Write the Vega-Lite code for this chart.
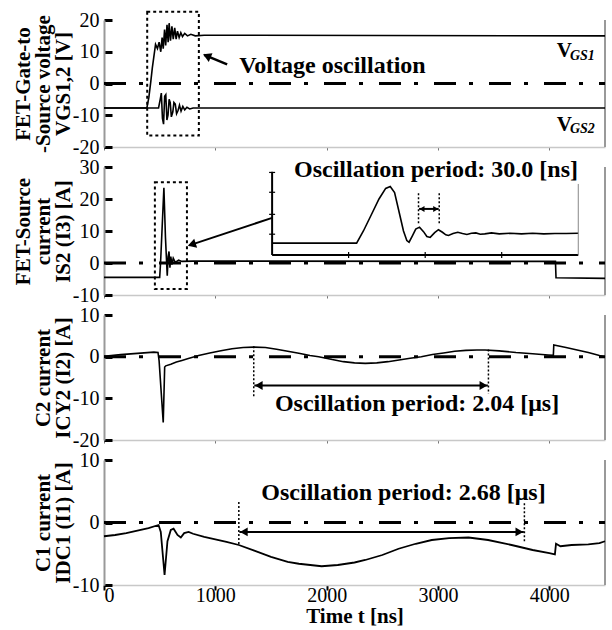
{
  "$schema": "https://vega.github.io/schema/vega-lite/v6.json",
  "padding": {"left": 12, "top": 10, "right": 0, "bottom": 0},
  "background": "white",
  "spacing": 20,
  "bounds": "flush",
  "config": {
    "font": "Liberation Serif",
    "view": {"stroke": null},
    "axis": {
      "labelFont": "Liberation Serif", "labelFontSize": 20, "labelColor": "black", "labelOverlap": false,
      "titleFont": "Liberation Serif", "titleFontSize": 21, "titleFontWeight": "bold", "titleColor": "black",
      "titleLineHeight": 20, "grid": false, "domainColor": "#999", "domainWidth": 2,
      "tickColor": "black", "tickWidth": 3
    },
    "axisY": {"titleFontWeight": "bold", "titlePadding": -1, "tickSize": -8, "labelPadding": 13, "labelExpr": "'' + datum.value", "labelFlush": false, "labelOverlap": false}
  },
  "datasets": {
    "wave": [
      {"p":1,"s":"g1","t":0,"v":-7.7},{"p":1,"s":"g1","t":385,"v":-7.7},{"p":1,"s":"g1","t":403,"v":-4.4},{"p":1,"s":"g1","t":420,"v":0.5},{"p":1,"s":"g1","t":434,"v":4.9},{"p":1,"s":"g1","t":450,"v":9},{"p":1,"s":"g1","t":463,"v":12.3},{"p":1,"s":"g1","t":480,"v":11},{"p":1,"s":"g1","t":495,"v":13},{"p":1,"s":"g1","t":510,"v":10},{"p":1,"s":"g1","t":522,"v":14.5},{"p":1,"s":"g1","t":532,"v":11},{"p":1,"s":"g1","t":544,"v":17},{"p":1,"s":"g1","t":554,"v":12},{"p":1,"s":"g1","t":566,"v":18.5},{"p":1,"s":"g1","t":576,"v":13},{"p":1,"s":"g1","t":585,"v":19},{"p":1,"s":"g1","t":597,"v":13.5},{"p":1,"s":"g1","t":610,"v":18},{"p":1,"s":"g1","t":622,"v":14},{"p":1,"s":"g1","t":635,"v":17.5},{"p":1,"s":"g1","t":648,"v":14},{"p":1,"s":"g1","t":660,"v":16.5},{"p":1,"s":"g1","t":675,"v":14.5},{"p":1,"s":"g1","t":690,"v":16},{"p":1,"s":"g1","t":705,"v":14.8},{"p":1,"s":"g1","t":725,"v":15.8},{"p":1,"s":"g1","t":750,"v":15},{"p":1,"s":"g1","t":780,"v":15.5},{"p":1,"s":"g1","t":820,"v":15},{"p":1,"s":"g1","t":900,"v":15.2},{"p":1,"s":"g1","t":4500,"v":15},
      {"p":1,"s":"g2","t":0,"v":-7.7},{"p":1,"s":"g2","t":490,"v":-7.7},{"p":1,"s":"g2","t":505,"v":-5},{"p":1,"s":"g2","t":515,"v":-3},{"p":1,"s":"g2","t":525,"v":-11},{"p":1,"s":"g2","t":535,"v":-12.8},{"p":1,"s":"g2","t":545,"v":-4},{"p":1,"s":"g2","t":555,"v":-3.5},{"p":1,"s":"g2","t":565,"v":-11.5},{"p":1,"s":"g2","t":575,"v":-10},{"p":1,"s":"g2","t":585,"v":-5},{"p":1,"s":"g2","t":595,"v":-6},{"p":1,"s":"g2","t":605,"v":-10.5},{"p":1,"s":"g2","t":618,"v":-9},{"p":1,"s":"g2","t":628,"v":-6},{"p":1,"s":"g2","t":640,"v":-6.5},{"p":1,"s":"g2","t":652,"v":-9.5},{"p":1,"s":"g2","t":665,"v":-8.5},{"p":1,"s":"g2","t":678,"v":-6.8},{"p":1,"s":"g2","t":692,"v":-8.7},{"p":1,"s":"g2","t":708,"v":-7.2},{"p":1,"s":"g2","t":725,"v":-8.3},{"p":1,"s":"g2","t":745,"v":-7.5},{"p":1,"s":"g2","t":770,"v":-8},{"p":1,"s":"g2","t":800,"v":-7.7},{"p":1,"s":"g2","t":4500,"v":-7.7},
      {"p":2,"s":"is","t":0,"v":-4.5},{"p":2,"s":"is","t":500,"v":-4.5},{"p":2,"s":"is","t":508,"v":0},{"p":2,"s":"is","t":538,"v":23.5},{"p":2,"s":"is","t":552,"v":8},{"p":2,"s":"is","t":568,"v":-4},{"p":2,"s":"is","t":576,"v":2},{"p":2,"s":"is","t":584,"v":3.6},{"p":2,"s":"is","t":592,"v":-1.5},{"p":2,"s":"is","t":600,"v":2},{"p":2,"s":"is","t":610,"v":-0.5},{"p":2,"s":"is","t":622,"v":1.5},{"p":2,"s":"is","t":640,"v":0.2},{"p":2,"s":"is","t":670,"v":0.9},{"p":2,"s":"is","t":700,"v":0.5},{"p":2,"s":"is","t":800,"v":0.6},{"p":2,"s":"is","t":4055,"v":0.5},{"p":2,"s":"is","t":4060,"v":-4.6},{"p":2,"s":"is","t":4500,"v":-4.8},
      {"p":2,"s":"inset","t":1510,"v":6.2},{"p":2,"s":"inset","t":2269,"v":6.2},{"p":2,"s":"inset","t":2330,"v":10},{"p":2,"s":"inset","t":2400,"v":15},{"p":2,"s":"inset","t":2470,"v":20},{"p":2,"s":"inset","t":2530,"v":23.3},{"p":2,"s":"inset","t":2571,"v":23.9},{"p":2,"s":"inset","t":2610,"v":22},{"p":2,"s":"inset","t":2650,"v":16},{"p":2,"s":"inset","t":2690,"v":10},{"p":2,"s":"inset","t":2720,"v":7},{"p":2,"s":"inset","t":2740,"v":6.5},{"p":2,"s":"inset","t":2770,"v":8.5},{"p":2,"s":"inset","t":2800,"v":10.6},{"p":2,"s":"inset","t":2834,"v":11.2},{"p":2,"s":"inset","t":2870,"v":9.8},{"p":2,"s":"inset","t":2900,"v":8.3},{"p":2,"s":"inset","t":2930,"v":8.0},{"p":2,"s":"inset","t":2970,"v":9.5},{"p":2,"s":"inset","t":3004,"v":10.4},{"p":2,"s":"inset","t":3040,"v":9.6},{"p":2,"s":"inset","t":3070,"v":8.8},{"p":2,"s":"inset","t":3094,"v":8.6},{"p":2,"s":"inset","t":3135,"v":9.2},{"p":2,"s":"inset","t":3178,"v":9.6},{"p":2,"s":"inset","t":3220,"v":9.2},{"p":2,"s":"inset","t":3260,"v":8.9},{"p":2,"s":"inset","t":3300,"v":9.3},{"p":2,"s":"inset","t":3340,"v":9.4},{"p":2,"s":"inset","t":3380,"v":9.0},{"p":2,"s":"inset","t":3420,"v":9.1},{"p":2,"s":"inset","t":3480,"v":9.4},{"p":2,"s":"inset","t":3550,"v":9.1},{"p":2,"s":"inset","t":3650,"v":9.3},{"p":2,"s":"inset","t":3750,"v":9.1},{"p":2,"s":"inset","t":3850,"v":9.3},{"p":2,"s":"inset","t":3950,"v":9.1},{"p":2,"s":"inset","t":4050,"v":9.2},{"p":2,"s":"inset","t":4150,"v":9.2},{"p":2,"s":"inset","t":4260,"v":9.3},
      {"p":3,"s":"c2","t":0,"v":0.1},{"p":3,"s":"c2","t":150,"v":0.5},{"p":3,"s":"c2","t":300,"v":0.8},{"p":3,"s":"c2","t":448,"v":1.1},{"p":3,"s":"c2","t":485,"v":1.0},{"p":3,"s":"c2","t":495,"v":-1},{"p":3,"s":"c2","t":532,"v":-15.8},{"p":3,"s":"c2","t":545,"v":-2.5},{"p":3,"s":"c2","t":555,"v":-2.2},{"p":3,"s":"c2","t":600,"v":-1.8},{"p":3,"s":"c2","t":650,"v":-1.3},{"p":3,"s":"c2","t":700,"v":-0.9},{"p":3,"s":"c2","t":750,"v":-0.5},{"p":3,"s":"c2","t":850,"v":0.3},{"p":3,"s":"c2","t":950,"v":0.9},{"p":3,"s":"c2","t":1050,"v":1.4},{"p":3,"s":"c2","t":1150,"v":1.9},{"p":3,"s":"c2","t":1250,"v":2.2},{"p":3,"s":"c2","t":1345,"v":2.3},{"p":3,"s":"c2","t":1450,"v":2.2},{"p":3,"s":"c2","t":1550,"v":1.8},{"p":3,"s":"c2","t":1650,"v":1.3},{"p":3,"s":"c2","t":1750,"v":0.8},{"p":3,"s":"c2","t":1850,"v":0.3},{"p":3,"s":"c2","t":1928,"v":0},{"p":3,"s":"c2","t":2050,"v":-0.7},{"p":3,"s":"c2","t":2150,"v":-1.2},{"p":3,"s":"c2","t":2250,"v":-1.5},{"p":3,"s":"c2","t":2347,"v":-1.6},{"p":3,"s":"c2","t":2450,"v":-1.5},{"p":3,"s":"c2","t":2550,"v":-1.2},{"p":3,"s":"c2","t":2650,"v":-0.8},{"p":3,"s":"c2","t":2750,"v":-0.4},{"p":3,"s":"c2","t":2850,"v":0},{"p":3,"s":"c2","t":2950,"v":0.5},{"p":3,"s":"c2","t":3050,"v":0.9},{"p":3,"s":"c2","t":3150,"v":1.3},{"p":3,"s":"c2","t":3250,"v":1.5},{"p":3,"s":"c2","t":3350,"v":1.6},{"p":3,"s":"c2","t":3423,"v":1.6},{"p":3,"s":"c2","t":3550,"v":1.4},{"p":3,"s":"c2","t":3700,"v":1.0},{"p":3,"s":"c2","t":3850,"v":0.7},{"p":3,"s":"c2","t":3990,"v":0.4},{"p":3,"s":"c2","t":4036,"v":0.3},{"p":3,"s":"c2","t":4040,"v":2.8},{"p":3,"s":"c2","t":4150,"v":2.2},{"p":3,"s":"c2","t":4250,"v":1.6},{"p":3,"s":"c2","t":4350,"v":1.0},{"p":3,"s":"c2","t":4450,"v":0.3},{"p":3,"s":"c2","t":4500,"v":0},
      {"p":4,"s":"c1","t":0,"v":-2.2},{"p":4,"s":"c1","t":100,"v":-2.0},{"p":4,"s":"c1","t":200,"v":-1.7},{"p":4,"s":"c1","t":300,"v":-1.3},{"p":4,"s":"c1","t":400,"v":-0.9},{"p":4,"s":"c1","t":490,"v":-0.4},{"p":4,"s":"c1","t":510,"v":-1.5},{"p":4,"s":"c1","t":544,"v":-8.4},{"p":4,"s":"c1","t":570,"v":-3},{"p":4,"s":"c1","t":600,"v":-1.2},{"p":4,"s":"c1","t":625,"v":-1.0},{"p":4,"s":"c1","t":660,"v":-2.0},{"p":4,"s":"c1","t":690,"v":-2.4},{"p":4,"s":"c1","t":720,"v":-1.7},{"p":4,"s":"c1","t":760,"v":-1.5},{"p":4,"s":"c1","t":800,"v":-1.8},{"p":4,"s":"c1","t":900,"v":-2.3},{"p":4,"s":"c1","t":1000,"v":-2.7},{"p":4,"s":"c1","t":1100,"v":-3.1},{"p":4,"s":"c1","t":1211,"v":-3.6},{"p":4,"s":"c1","t":1350,"v":-4.5},{"p":4,"s":"c1","t":1500,"v":-5.5},{"p":4,"s":"c1","t":1650,"v":-6.3},{"p":4,"s":"c1","t":1750,"v":-6.6},{"p":4,"s":"c1","t":1955,"v":-7.0},{"p":4,"s":"c1","t":2100,"v":-6.8},{"p":4,"s":"c1","t":2250,"v":-6.4},{"p":4,"s":"c1","t":2347,"v":-6.0},{"p":4,"s":"c1","t":2500,"v":-5.2},{"p":4,"s":"c1","t":2646,"v":-4.2},{"p":4,"s":"c1","t":2800,"v":-3.4},{"p":4,"s":"c1","t":2944,"v":-2.8},{"p":4,"s":"c1","t":3100,"v":-2.5},{"p":4,"s":"c1","t":3274,"v":-2.4},{"p":4,"s":"c1","t":3450,"v":-2.8},{"p":4,"s":"c1","t":3661,"v":-3.6},{"p":4,"s":"c1","t":3850,"v":-4.4},{"p":4,"s":"c1","t":4000,"v":-4.9},{"p":4,"s":"c1","t":4050,"v":-5.1},{"p":4,"s":"c1","t":4060,"v":-3.4},{"p":4,"s":"c1","t":4100,"v":-3.8},{"p":4,"s":"c1","t":4200,"v":-3.6},{"p":4,"s":"c1","t":4350,"v":-3.5},{"p":4,"s":"c1","t":4450,"v":-3.3},{"p":4,"s":"c1","t":4500,"v":-3.0}
    ],
    "rects": [
      {"p":1,"t":388,"t2":852,"v":-16.4,"v2":22.6},
      {"p":2,"t":457,"t2":745,"v":-8.1,"v2":25.2}
    ],
    "segs": [
      {"p":1,"k":"border","t":4500,"v":-20,"t2":4500,"v2":20},
      {"p":1,"k":"zero","t":0,"v":0,"t2":4500,"v2":0},
      {"p":2,"k":"border","t":4500,"v":-10,"t2":4500,"v2":30},
      {"p":2,"k":"zero","t":0,"v":0,"t2":4500,"v2":0},
      {"p":3,"k":"border","t":4500,"v":-20,"t2":4500,"v2":10},
      {"p":3,"k":"zero","t":0,"v":0,"t2":4500,"v2":0},
      {"p":4,"k":"border","t":4500,"v":-10,"t2":4500,"v2":10},
      {"p":4,"k":"zero","t":0,"v":0,"t2":4500,"v2":0},
      {"p":1,"k":"solid","t":1106,"v":6.0,"t2":900,"v2":9.0},
      {"p":2,"k":"solid","t":1510,"v":14.1,"t2":765,"v2":5.5},
      {"p":2,"k":"solid","t":2830,"v":16.9,"t2":3006,"v2":16.9},
      {"p":2,"k":"dot","t":2825,"v":12.4,"t2":2825,"v2":22.3},
      {"p":2,"k":"dot","t":3011,"v":12.4,"t2":3011,"v2":22.3},
      {"p":2,"k":"frame","t":1510,"v":2.5,"t2":1510,"v2":28.5},
      {"p":2,"k":"frame","t":1510,"v":2.5,"t2":4260,"v2":2.5},
      {"p":2,"k":"thin","t":4260,"v":2.5,"t2":4260,"v2":24.7},
      {"p":3,"k":"dot","t":1345,"v":2.5,"t2":1345,"v2":-9.7},
      {"p":3,"k":"dot","t":3453,"v":1.7,"t2":3453,"v2":-8.9},
      {"p":3,"k":"solid","t":1350,"v":-6.9,"t2":3448,"v2":-6.9},
      {"p":4,"k":"dot","t":1211,"v":3.3,"t2":1211,"v2":-3.6},
      {"p":4,"k":"dot","t":3776,"v":3.1,"t2":3776,"v2":-3.3},
      {"p":4,"k":"solid","t":1216,"v":-1.5,"t2":3771,"v2":-1.5}
    ],
    "heads": [
      {"p":1,"k":"d1","t":935,"v":8.5},
      {"p":2,"k":"d2","t":800,"v":5.9},
      {"p":2,"k":"l","t":2856,"v":16.9},
      {"p":2,"k":"r","t":2980,"v":16.9},
      {"p":3,"k":"L","t":1390,"v":-6.9},
      {"p":3,"k":"R","t":3408,"v":-6.9},
      {"p":4,"k":"L","t":1256,"v":-1.5},
      {"p":4,"k":"R","t":3731,"v":-1.5}
    ],
    "iticks": [
      {"p":2,"k":"h","t":1510,"v":28.3},{"p":2,"k":"h","t":1510,"v":22.1},{"p":2,"k":"h","t":1510,"v":15.2},{"p":2,"k":"h","t":1510,"v":9.0},
      {"p":2,"k":"v","t":2197,"v":2.5},{"p":2,"k":"v","t":2885,"v":2.5},{"p":2,"k":"v","t":3572,"v":2.5}
    ],
    "texts": [
      {"p":1,"k":"ann","t":2052,"v":5.5,"label":"Voltage oscillation"},
      {"p":1,"k":"V","t":4135,"v":10.1,"label":"V"},
      {"p":1,"k":"sub","t":4297,"v":8.6,"label":"GS1"},
      {"p":1,"k":"V","t":4135,"v":-13.2,"label":"V"},
      {"p":1,"k":"sub","t":4297,"v":-14.4,"label":"GS2"},
      {"p":2,"k":"ann","t":2982,"v":29.0,"label":"Oscillation period: 30.0 [ns]"},
      {"p":3,"k":"ann","t":2812,"v":-11.3,"label":"Oscillation period: 2.04 [μs]"},
      {"p":4,"k":"ann","t":2690,"v":4.7,"label":"Oscillation period: 2.68 [μs]"}
    ]
  },
  "vconcat": [
    {
      "width": 501, "height": 127,
      "encoding": {
        "x": {"field": "t", "type": "quantitative", "scale": {"domain": [0, 4500], "nice": false}, "axis": {"values": [0, 1000, 2000, 3000, 4000], "labels": false, "title": null, "tickSize": 3, "tickWidth": 1, "tickColor": "#777", "domainColor": "#c8c8c8", "domainWidth": 1.5}},
        "y": {"field": "v", "type": "quantitative", "scale": {"domain": [-20, 20], "nice": false}, "axis": {"values": [-20, -10, 0, 10, 20], "labelOverlap": false, "title": ["FET-Gate-to", "-Source voltage", "VGS1,2 [V]"]}}
      },
      "layer": [
        {"data": {"name": "segs"}, "transform": [{"filter": "datum.p == 1 && datum.k == 'border'"}], "mark": {"type": "rule", "color": "#999", "strokeWidth": 2}, "encoding": {"x2": {"field": "t2"}, "y2": {"field": "v2"}}},
        {"data": {"name": "segs"}, "transform": [{"filter": "datum.p == 1 && datum.k == 'zero'"}], "mark": {"type": "rule", "color": "black", "strokeWidth": 3, "strokeDash": [22, 13, 4, 16]}, "encoding": {"x2": {"field": "t2"}, "y2": {"field": "v2"}}},
        {"data": {"name": "wave"}, "transform": [{"filter": "datum.p == 1"}], "mark": {"type": "line", "color": "black", "strokeWidth": 1.6}, "encoding": {"detail": {"field": "s"}}},
        {"data": {"name": "rects"}, "transform": [{"filter": "datum.p == 1"}], "mark": {"type": "rect", "fill": null, "stroke": "black", "strokeWidth": 2, "strokeDash": [3, 3]}, "encoding": {"x2": {"field": "t2"}, "y2": {"field": "v2"}}},
        {"data": {"name": "segs"}, "transform": [{"filter": "datum.p == 1 && datum.k == 'solid'"}], "mark": {"type": "rule", "color": "black", "strokeWidth": 2.5}, "encoding": {"x2": {"field": "t2"}, "y2": {"field": "v2"}}},
        {"data": {"name": "heads"}, "transform": [{"filter": "datum.p == 1 && datum.k == 'd1'"}], "mark": {"type": "point", "shape": "triangle", "angle": 293, "filled": true, "color": "black", "size": 90, "opacity": 1}},
        {"data": {"name": "texts"}, "transform": [{"filter": "datum.p == 1 && datum.k == 'ann'"}], "mark": {"type": "text", "font": "Liberation Serif", "fontWeight": "bold", "fontSize": 24, "align": "center", "baseline": "middle", "color": "black"}, "encoding": {"text": {"field": "label"}}},
        {"data": {"name": "texts"}, "transform": [{"filter": "datum.p == 1 && datum.k == 'V'"}], "mark": {"type": "text", "font": "Liberation Serif", "fontWeight": "bold", "fontSize": 21, "align": "center", "baseline": "middle", "color": "black"}, "encoding": {"text": {"field": "label"}}},
        {"data": {"name": "texts"}, "transform": [{"filter": "datum.p == 1 && datum.k == 'sub'"}], "mark": {"type": "text", "font": "Liberation Serif", "fontWeight": "bold", "fontStyle": "italic", "fontSize": 14, "align": "center", "baseline": "middle", "color": "black"}, "encoding": {"text": {"field": "label"}}}
      ]
    },
    {
      "width": 501, "height": 128,
      "encoding": {
        "x": {"field": "t", "type": "quantitative", "scale": {"domain": [0, 4500], "nice": false}, "axis": {"values": [0, 1000, 2000, 3000, 4000], "labels": false, "title": null, "tickSize": 3, "tickWidth": 1, "tickColor": "#777", "domainColor": "#c8c8c8", "domainWidth": 1.5}},
        "y": {"field": "v", "type": "quantitative", "scale": {"domain": [-10, 30], "nice": false}, "axis": {"values": [-10, 0, 10, 20, 30], "labelOverlap": false, "title": ["FET-Source", "current", "IS2 (I3) [A]"]}}
      },
      "layer": [
        {"data": {"name": "segs"}, "transform": [{"filter": "datum.p == 2 && datum.k == 'border'"}], "mark": {"type": "rule", "color": "#999", "strokeWidth": 2}, "encoding": {"x2": {"field": "t2"}, "y2": {"field": "v2"}}},
        {"data": {"name": "segs"}, "transform": [{"filter": "datum.p == 2 && datum.k == 'zero'"}], "mark": {"type": "rule", "color": "black", "strokeWidth": 3, "strokeDash": [22, 13, 4, 16]}, "encoding": {"x2": {"field": "t2"}, "y2": {"field": "v2"}}},
        {"data": {"name": "wave"}, "transform": [{"filter": "datum.p == 2"}], "mark": {"type": "line", "color": "black", "strokeWidth": 1.6}, "encoding": {"detail": {"field": "s"}}},
        {"data": {"name": "rects"}, "transform": [{"filter": "datum.p == 2"}], "mark": {"type": "rect", "fill": null, "stroke": "black", "strokeWidth": 2, "strokeDash": [3, 3]}, "encoding": {"x2": {"field": "t2"}, "y2": {"field": "v2"}}},
        {"data": {"name": "segs"}, "transform": [{"filter": "datum.p == 2 && datum.k == 'solid'"}], "mark": {"type": "rule", "color": "black", "strokeWidth": 2}, "encoding": {"x2": {"field": "t2"}, "y2": {"field": "v2"}}},
        {"data": {"name": "segs"}, "transform": [{"filter": "datum.p == 2 && datum.k == 'dot'"}], "mark": {"type": "rule", "color": "black", "strokeWidth": 1.5, "strokeDash": [2, 2]}, "encoding": {"x2": {"field": "t2"}, "y2": {"field": "v2"}}},
        {"data": {"name": "segs"}, "transform": [{"filter": "datum.p == 2 && datum.k == 'frame'"}], "mark": {"type": "rule", "color": "black", "strokeWidth": 2}, "encoding": {"x2": {"field": "t2"}, "y2": {"field": "v2"}}},
        {"data": {"name": "segs"}, "transform": [{"filter": "datum.p == 2 && datum.k == 'thin'"}], "mark": {"type": "rule", "color": "#888", "strokeWidth": 1}, "encoding": {"x2": {"field": "t2"}, "y2": {"field": "v2"}}},
        {"data": {"name": "iticks"}, "transform": [{"filter": "datum.k == 'h'"}], "mark": {"type": "tick", "orient": "horizontal", "color": "black", "size": 6, "thickness": 1.2, "opacity": 1}},
        {"data": {"name": "iticks"}, "transform": [{"filter": "datum.k == 'v'"}], "mark": {"type": "tick", "orient": "vertical", "color": "black", "size": 6, "thickness": 1.2, "opacity": 1}},
        {"data": {"name": "heads"}, "transform": [{"filter": "datum.p == 2 && datum.k == 'd2'"}], "mark": {"type": "point", "shape": "triangle", "angle": 252, "filled": true, "color": "black", "size": 90, "opacity": 1}},
        {"data": {"name": "heads"}, "transform": [{"filter": "datum.p == 2 && datum.k == 'l'"}], "mark": {"type": "point", "shape": "triangle-left", "filled": true, "color": "black", "size": 35, "opacity": 1}},
        {"data": {"name": "heads"}, "transform": [{"filter": "datum.p == 2 && datum.k == 'r'"}], "mark": {"type": "point", "shape": "triangle-right", "filled": true, "color": "black", "size": 35, "opacity": 1}},
        {"data": {"name": "texts"}, "transform": [{"filter": "datum.p == 2"}], "mark": {"type": "text", "font": "Liberation Serif", "fontWeight": "bold", "fontSize": 24, "align": "center", "baseline": "middle", "color": "black"}, "encoding": {"text": {"field": "label"}}}
      ]
    },
    {
      "width": 501, "height": 125,
      "encoding": {
        "x": {"field": "t", "type": "quantitative", "scale": {"domain": [0, 4500], "nice": false}, "axis": {"values": [0, 1000, 2000, 3000, 4000], "labels": false, "title": null, "tickSize": 3, "tickWidth": 1, "tickColor": "#777", "domainColor": "#c8c8c8", "domainWidth": 1.5}},
        "y": {"field": "v", "type": "quantitative", "scale": {"domain": [-20, 10], "nice": false}, "axis": {"values": [-20, -10, 0, 10], "labelOverlap": false, "title": ["C2  current", "ICY2 (I2) [A]"]}}
      },
      "layer": [
        {"data": {"name": "segs"}, "transform": [{"filter": "datum.p == 3 && datum.k == 'border'"}], "mark": {"type": "rule", "color": "#999", "strokeWidth": 2}, "encoding": {"x2": {"field": "t2"}, "y2": {"field": "v2"}}},
        {"data": {"name": "segs"}, "transform": [{"filter": "datum.p == 3 && datum.k == 'zero'"}], "mark": {"type": "rule", "color": "black", "strokeWidth": 3, "strokeDash": [22, 13, 4, 16]}, "encoding": {"x2": {"field": "t2"}, "y2": {"field": "v2"}}},
        {"data": {"name": "wave"}, "transform": [{"filter": "datum.p == 3"}], "mark": {"type": "line", "color": "black", "strokeWidth": 1.6}, "encoding": {"detail": {"field": "s"}}},
        {"data": {"name": "segs"}, "transform": [{"filter": "datum.p == 3 && datum.k == 'solid'"}], "mark": {"type": "rule", "color": "black", "strokeWidth": 2}, "encoding": {"x2": {"field": "t2"}, "y2": {"field": "v2"}}},
        {"data": {"name": "segs"}, "transform": [{"filter": "datum.p == 3 && datum.k == 'dot'"}], "mark": {"type": "rule", "color": "black", "strokeWidth": 1.5, "strokeDash": [2, 2]}, "encoding": {"x2": {"field": "t2"}, "y2": {"field": "v2"}}},
        {"data": {"name": "heads"}, "transform": [{"filter": "datum.p == 3 && datum.k == 'L'"}], "mark": {"type": "point", "shape": "triangle-left", "filled": true, "color": "black", "size": 80, "opacity": 1}},
        {"data": {"name": "heads"}, "transform": [{"filter": "datum.p == 3 && datum.k == 'R'"}], "mark": {"type": "point", "shape": "triangle-right", "filled": true, "color": "black", "size": 80, "opacity": 1}},
        {"data": {"name": "texts"}, "transform": [{"filter": "datum.p == 3"}], "mark": {"type": "text", "font": "Liberation Serif", "fontWeight": "bold", "fontSize": 24, "align": "center", "baseline": "middle", "color": "black"}, "encoding": {"text": {"field": "label"}}}
      ]
    },
    {
      "width": 501, "height": 125,
      "encoding": {
        "x": {"field": "t", "type": "quantitative", "scale": {"domain": [0, 4500], "nice": false}, "axis": {"values": [0, 1000, 2000, 3000, 4000], "format": "d", "labelOverlap": false, "tickSize": 5, "tickWidth": 2, "labelPadding": -5, "domainColor": "#c8c8c8", "domainWidth": 1.5, "title": "Time t [ns]", "titleFontSize": 21, "titleY": 20, "titleBaseline": "top"}},
        "y": {"field": "v", "type": "quantitative", "scale": {"domain": [-10, 10], "nice": false}, "axis": {"values": [-10, 0, 10], "labelOverlap": false, "title": ["C1 current", "IDC1 (I1) [A]"]}}
      },
      "layer": [
        {"data": {"name": "segs"}, "transform": [{"filter": "datum.p == 4 && datum.k == 'border'"}], "mark": {"type": "rule", "color": "#999", "strokeWidth": 2}, "encoding": {"x2": {"field": "t2"}, "y2": {"field": "v2"}}},
        {"data": {"name": "segs"}, "transform": [{"filter": "datum.p == 4 && datum.k == 'zero'"}], "mark": {"type": "rule", "color": "black", "strokeWidth": 3, "strokeDash": [22, 13, 4, 16]}, "encoding": {"x2": {"field": "t2"}, "y2": {"field": "v2"}}},
        {"data": {"name": "wave"}, "transform": [{"filter": "datum.p == 4"}], "mark": {"type": "line", "color": "black", "strokeWidth": 1.8}, "encoding": {"detail": {"field": "s"}}},
        {"data": {"name": "segs"}, "transform": [{"filter": "datum.p == 4 && datum.k == 'solid'"}], "mark": {"type": "rule", "color": "black", "strokeWidth": 2}, "encoding": {"x2": {"field": "t2"}, "y2": {"field": "v2"}}},
        {"data": {"name": "segs"}, "transform": [{"filter": "datum.p == 4 && datum.k == 'dot'"}], "mark": {"type": "rule", "color": "black", "strokeWidth": 1.5, "strokeDash": [2, 2]}, "encoding": {"x2": {"field": "t2"}, "y2": {"field": "v2"}}},
        {"data": {"name": "heads"}, "transform": [{"filter": "datum.p == 4 && datum.k == 'L'"}], "mark": {"type": "point", "shape": "triangle-left", "filled": true, "color": "black", "size": 80, "opacity": 1}},
        {"data": {"name": "heads"}, "transform": [{"filter": "datum.p == 4 && datum.k == 'R'"}], "mark": {"type": "point", "shape": "triangle-right", "filled": true, "color": "black", "size": 80, "opacity": 1}},
        {"data": {"name": "texts"}, "transform": [{"filter": "datum.p == 4"}], "mark": {"type": "text", "font": "Liberation Serif", "fontWeight": "bold", "fontSize": 24, "align": "center", "baseline": "middle", "color": "black"}, "encoding": {"text": {"field": "label"}}}
      ]
    }
  ]
}
